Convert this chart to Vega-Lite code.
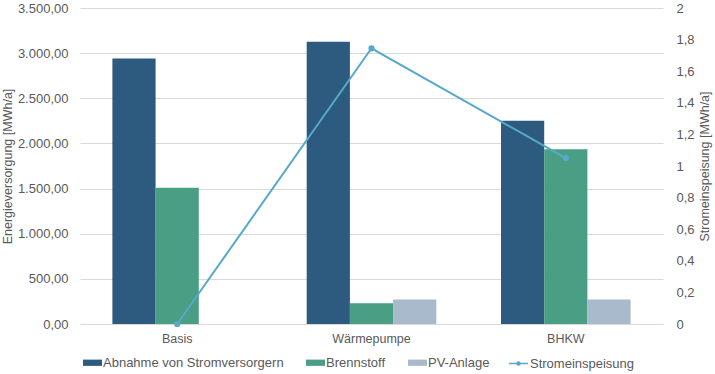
{
  "$schema": "https://vega.github.io/schema/vega-lite/v6.json",
  "width": 583,
  "height": 316,
  "autosize": "none",
  "padding": {"left": 80, "top": 8, "right": 52, "bottom": 50},
  "background": "white",
  "config": {
    "locale": {"number": {"decimal": ",", "thousands": ".", "grouping": [3], "currency": ["", " €"]}},
    "font": "Liberation Sans",
    "view": {"stroke": null},
    "axis": {
      "labelColor": "#595959",
      "titleColor": "#595959",
      "labelFontSize": 13,
      "titleFontSize": 12.5,
      "titleFontWeight": "normal",
      "ticks": false,
      "domain": false,
      "gridColor": "#D9D9D9",
      "gridWidth": 1
    },
    "legend": {"labelColor": "#595959", "labelFontSize": 13, "labelLimit": 400}
  },
  "datasets": {
    "bars": [
      {"Szenario": "Basis", "Serie": "Abnahme von Stromversorgern", "Wert": 2940},
      {"Szenario": "Basis", "Serie": "Brennstoff", "Wert": 1510},
      {"Szenario": "Wärmepumpe", "Serie": "Abnahme von Stromversorgern", "Wert": 3125},
      {"Szenario": "Wärmepumpe", "Serie": "Brennstoff", "Wert": 230},
      {"Szenario": "Wärmepumpe", "Serie": "PV-Anlage", "Wert": 270},
      {"Szenario": "BHKW", "Serie": "Abnahme von Stromversorgern", "Wert": 2250},
      {"Szenario": "BHKW", "Serie": "Brennstoff", "Wert": 1935},
      {"Szenario": "BHKW", "Serie": "PV-Anlage", "Wert": 270}
    ],
    "line": [
      {"Szenario": "Basis", "Wert": 0},
      {"Szenario": "Wärmepumpe", "Wert": 1.745},
      {"Szenario": "BHKW", "Wert": 1.05}
    ]
  },
  "layer": [
    {
      "data": {"name": "bars"},
      "mark": {"type": "bar"},
      "encoding": {
        "x": {
          "field": "Szenario",
          "type": "nominal",
          "sort": ["Basis", "Wärmepumpe", "BHKW"],
          "scale": {"paddingInner": 0.333, "paddingOuter": 0.1667},
          "axis": {"title": null, "labelAngle": 0, "labelPadding": 8, "grid": false, "labelFontSize": 12.5}
        },
        "xOffset": {
          "field": "Serie",
          "type": "nominal",
          "sort": ["Abnahme von Stromversorgern", "Brennstoff", "PV-Anlage"],
          "scale": {"paddingInner": 0, "paddingOuter": 0}
        },
        "y": {
          "field": "Wert",
          "type": "quantitative",
          "scale": {"domain": [0, 3500], "nice": false},
          "axis": {
            "title": "Energieversorgung [MWh/a]",
            "format": ",.2f",
            "values": [0, 500, 1000, 1500, 2000, 2500, 3000, 3500],
            "labelPadding": 12,
            "titlePadding": 3,
            "grid": true
          }
        },
        "color": {
          "field": "Serie",
          "type": "nominal",
          "scale": {
            "domain": ["Abnahme von Stromversorgern", "Brennstoff", "PV-Anlage"],
            "range": ["#2D5A7F", "#4A9E84", "#A9BACC"]
          },
          "legend": {
            "orient": "none",
            "legendX": 3,
            "legendY": 345,
            "direction": "horizontal",
            "title": null,
            "symbolType": "M-1,-0.33L1,-0.33L1,0.33L-1,0.33Z",
            "symbolSize": 361,
            "symbolStrokeWidth": 0,
            "labelOffset": 1,
            "columnPadding": 22,
            "padding": 0
          }
        }
      }
    },
    {
      "data": {"name": "line"},
      "mark": {
        "type": "line",
        "color": "#56A9C9",
        "strokeWidth": 2,
        "point": {"filled": true, "color": "#56A9C9", "size": 18}
      },
      "encoding": {
        "x": {"field": "Szenario", "type": "nominal", "sort": ["Basis", "Wärmepumpe", "BHKW"]},
        "y": {
          "field": "Wert",
          "type": "quantitative",
          "scale": {"domain": [0, 2], "nice": false},
          "axis": {
            "orient": "right",
            "title": "Stromeinspeisung [MWh/a]",
            "titleAngle": -90,
            "titleBaseline": "top",
            "format": ".1~f",
            "values": [0, 0.2, 0.4, 0.6, 0.8, 1, 1.2, 1.4, 1.6, 1.8, 2],
            "grid": false,
            "labelPadding": 13,
            "titlePadding": 4
          }
        },
        "stroke": {
          "datum": "Stromeinspeisung",
          "scale": {"range": ["#56A9C9"]},
          "legend": {
            "orient": "none",
            "legendX": 428,
            "legendY": 345,
            "direction": "horizontal",
            "title": null,
            "symbolType": "M-1,0L1,0M-0.16,0A0.16,0.16,0,1,1,0.16,0A0.16,0.16,0,1,1,-0.16,0Z",
            "symbolSize": 361,
            "symbolStrokeWidth": 1.5,
            "symbolFillColor": "#56A9C9",
            "labelOffset": 1,
            "padding": 0
          }
        }
      }
    }
  ],
  "resolve": {"scale": {"y": "independent"}}
}
